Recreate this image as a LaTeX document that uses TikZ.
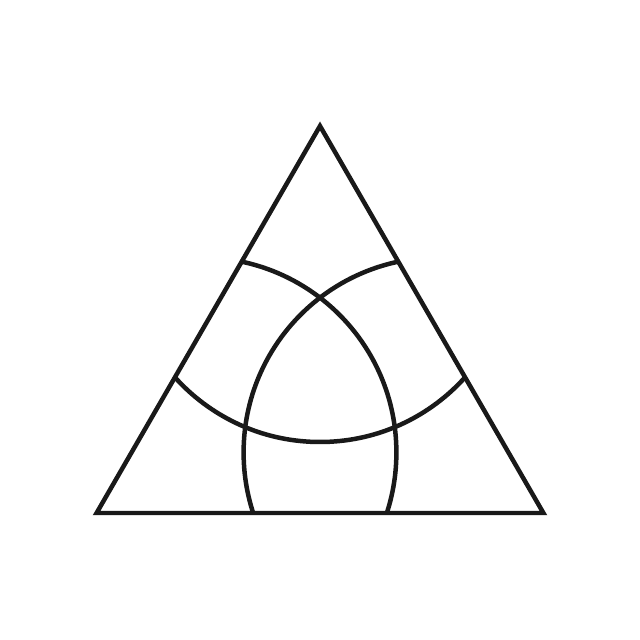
\documentclass[tikz,border=0pt]{standalone}
\begin{document}
\begin{tikzpicture}[x=0.02cm,y=0.02cm]
\definecolor{ink}{rgb}{0.1,0.1,0.1}
\tikzset{stroke/.style={draw=ink,line width=0.09cm}}
\useasboundingbox (0,0) rectangle (640,640);
\coordinate (T) at (320,514);
\coordinate (L) at (96.6,127);
\coordinate (R) at (543.4,127);
\coordinate (CT) at (320,393);
\coordinate (CL) at (201.4,187.5);
\coordinate (CR) at (438.6,187.5);
\begin{scope}
\clip (T) -- (L) -- (R) -- cycle;
\draw[stroke] (CT) circle[radius=195];
\draw[stroke] (CL) circle[radius=195];
\draw[stroke] (CR) circle[radius=195];
\end{scope}
\draw[stroke,line join=miter] (T) -- (L) -- (R) -- cycle;
\end{tikzpicture}
\end{document}
